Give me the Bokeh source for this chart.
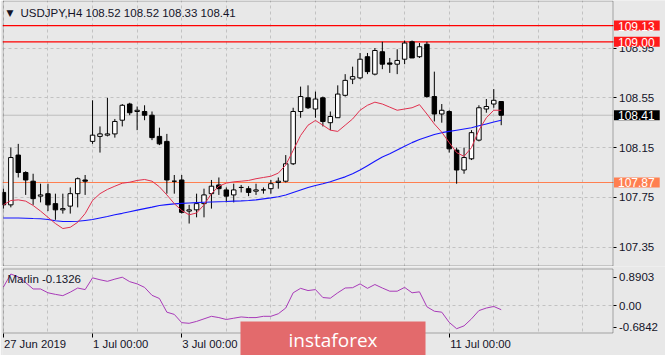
from bokeh.plotting import figure
from bokeh.layouts import column
from bokeh.models import Span, Label, FixedTicker, Range1d, ColumnDataSource, BoxAnnotation
from bokeh.embed import file_html
from bokeh.resources import INLINE

# ---------------- data ----------------
opens = [107.79, 107.69, 108.09, 107.95, 107.88, 107.76, 107.78, 107.70, 107.65, 107.68,
         107.78, 107.89, 108.20, 108.24, 108.25, 108.26, 108.37, 108.50, 108.44, 108.44,
         108.41, 108.24, 108.20, 107.88, 107.89, 107.64, 107.65, 107.70, 107.78, 107.85,
         107.81, 107.77, 107.83, 107.82, 107.80, 107.81, 107.82, 107.87, 107.88, 108.02,
         108.44, 108.55, 108.46, 108.55, 108.35, 108.39, 108.57, 108.70, 108.71, 108.88,
         108.74, 108.92, 108.83, 108.82, 108.86, 109.00, 108.88, 108.98, 108.56, 108.42,
         108.44, 108.13, 107.97, 108.06, 108.21, 108.46, 108.50, 108.52]
highs = [107.82, 108.15, 108.18, 107.96, 107.94, 107.86, 107.86, 107.78, 107.78, 107.83,
         107.91, 107.93, 108.53, 108.32, 108.55, 108.38, 108.50, 108.51, 108.48, 108.49,
         108.44, 108.31, 108.26, 107.93, 107.93, 107.69, 107.78, 107.82, 107.89, 107.91,
         107.83, 107.86, 107.85, 107.84, 107.86, 107.83, 107.89, 107.91, 108.09, 108.47,
         108.64, 108.65, 108.60, 108.56, 108.44, 108.65, 108.74, 108.80, 108.91, 108.91,
         108.95, 109.00, 108.87, 108.94, 109.01, 109.01, 108.99, 109.00, 108.76, 108.50,
         108.45, 108.15, 108.15, 108.29, 108.49, 108.54, 108.62, 108.52]
lows = [107.66, 107.67, 107.91, 107.77, 107.69, 107.71, 107.64, 107.57, 107.62, 107.62,
        107.67, 107.77, 108.18, 108.11, 108.24, 108.23, 108.32, 108.41, 108.29, 108.37,
        108.21, 108.17, 107.78, 107.78, 107.62, 107.54, 107.59, 107.59, 107.66, 107.77,
        107.71, 107.71, 107.79, 107.76, 107.77, 107.78, 107.78, 107.82, 107.87, 108.01,
        108.39, 108.46, 108.39, 108.32, 108.29, 108.39, 108.56, 108.66, 108.70, 108.74,
        108.73, 108.78, 108.75, 108.74, 108.82, 108.87, 108.87, 108.55, 108.36, 108.35,
        108.11, 107.86, 107.94, 108.05, 108.20, 108.43, 108.47, 108.33]
closes = [107.69, 108.07, 107.95, 107.89, 107.74, 107.77, 107.69, 107.65, 107.66, 107.78,
          107.90, 107.88, 108.25, 108.26, 108.26, 108.36, 108.49, 108.43, 108.45, 108.41,
          108.23, 108.18, 107.89, 107.88, 107.63, 107.65, 107.70, 107.77, 107.84, 107.82,
          107.76, 107.81, 107.83, 107.79, 107.81, 107.81, 107.86, 107.88, 108.02, 108.44,
          108.56, 108.47, 108.54, 108.36, 108.40, 108.58, 108.69, 108.72, 108.86, 108.76,
          108.93, 108.82, 108.82, 108.85, 108.99, 108.87, 108.96, 108.56, 108.42, 108.45,
          108.14, 107.97, 108.07, 108.27, 108.47, 108.48, 108.53, 108.41]
ma_fast = [107.69, 107.725, 107.73, 107.72, 107.685, 107.64, 107.59, 107.54, 107.50, 107.51,
           107.55, 107.62, 107.725, 107.78, 107.814, 107.84, 107.864, 107.872, 107.886, 107.894,
           107.88, 107.835, 107.77, 107.70, 107.645, 107.61, 107.625, 107.69, 107.78, 107.84,
           107.865, 107.875, 107.88, 107.886, 107.90, 107.91, 107.92, 107.945, 108.01, 108.127,
           108.247, 108.33, 108.368, 108.33, 108.29, 108.28, 108.33, 108.38, 108.45, 108.49,
           108.515, 108.50, 108.475, 108.45, 108.46, 108.47, 108.495, 108.42, 108.34, 108.274,
           108.19, 108.11, 108.08, 108.15, 108.29, 108.39, 108.45, 108.45]
ma_slow = [107.585, 107.585, 107.585, 107.583, 107.58, 107.578, 107.572, 107.562, 107.556, 107.556,
           107.558, 107.565, 107.572, 107.585, 107.597, 107.61, 107.622, 107.635, 107.648, 107.66,
           107.672, 107.685, 107.692, 107.698, 107.702, 107.705, 107.708, 107.711, 107.713, 107.715,
           107.717, 107.72, 107.722, 107.725, 107.73, 107.738, 107.746, 107.755, 107.77, 107.79,
           107.81, 107.83, 107.846, 107.86, 107.875, 107.895, 107.915, 107.94, 107.97, 108.005,
           108.04, 108.075, 108.10, 108.13, 108.16, 108.19, 108.215, 108.235, 108.255, 108.27,
           108.28, 108.29, 108.30, 108.31, 108.325, 108.34, 108.355, 108.37]
marlin = [0.58, 0.99, 0.90, 0.72, 0.52, 0.52, 0.40, 0.35, 0.31, 0.42,
          0.55, 0.50, 0.87, 0.81, 0.76, 0.83, 0.89, 0.75, 0.68, 0.57,
          0.32, 0.22, -0.21, -0.28, -0.54, -0.56, -0.50, -0.42, -0.34, -0.38,
          -0.44, -0.40, -0.36, -0.38, -0.38, -0.34, -0.34, -0.26, -0.08, 0.40,
          0.54, 0.47, 0.50, 0.25, 0.23, 0.40, 0.55, 0.56, 0.68, 0.54,
          0.66, 0.55, 0.45, 0.45, 0.57, 0.40, 0.43, -0.04, -0.18, -0.21,
          -0.53, -0.73, -0.64, -0.42, -0.16, -0.08, -0.03, -0.1326]

date_tick_idx = [0, 12, 24, 36, 48, 60]
date_tick_labels = ["27 Jun 2019", "1 Jul 00:00", "3 Jul 00:00", "5 Jul 00:00", "9 Jul 00:00", "11 Jul 00:00"]
day_grid_idx = list(range(0, 84, 6))
price_ticks = [107.35, 107.75, 108.15, 108.55, 108.95]
marlin_ticks = [-0.6842, 0.0, 0.8903]
marlin_tick_labels = ["-0.6842", "0.00", "0.8903"]
resistance_levels = [109.13, 109.00]
support_level = 107.87
last_price = 108.41
symbol_title = "USDJPY,H4  108.52 108.52 108.33 108.41"
marlin_title = "Marlin -0.1326"

# ---------------- geometry / style ----------------
C0_PX, CANDLE_PX = 2.9, 7.43          # page x of first candle, px per candle
PANEL_R = 612.5                       # right border of the chart panels (page px)


def xpx(px):
    return (px - C0_PX) / CANDLE_PX


PRICE_REF, PRICE_REF_PX, PX_PER_PRICE = 108.95, 47.5, 124.5


def price_at(py):
    return PRICE_REF - (py - PRICE_REF_PX) / PX_PER_PRICE


M_ZERO_PX, PX_PER_M = 305.0, 31.79    # page y of Marlin 0, px per Marlin unit


def m_at(py):
    return (M_ZERO_PX - py) / PX_PER_M


BG = "#e8e8e8"
GRID = "#c2c2c2"
TXT = "#141428"
FONT = "Liberation Sans"
DATE_FONT_PX = 11.3
date_label_px_w = [62.2, 55.3, 55.3, 55.3, 55.3, 61.6]   # rendered widths, for left alignment

x_range = Range1d(xpx(2), xpx(665))


def style_grid(fig):
    for g in (fig.xgrid, fig.ygrid):
        g.grid_line_color = GRID
        g.grid_line_dash = "3 3"
        g.grid_line_width = 1


def style_value_axis(a):
    a.axis_line_color = None
    a.major_tick_in = 0
    a.major_tick_out = 3
    a.major_tick_line_color = "black"
    a.minor_tick_line_color = None
    a.major_label_standoff = 3
    a.major_label_text_font = FONT
    a.major_label_text_font_size = "11.5px"
    a.major_label_text_color = TXT


def cover(fig, **kw):
    fig.add_layout(BoxAnnotation(fill_color=BG, fill_alpha=1, line_color=None, level="glyph", **kw))


# ---------------- main price panel ----------------
p = figure(width=665, height=266, x_range=x_range,
           y_range=Range1d(price_at(266), price_at(0)),
           output_backend="svg", toolbar_location=None, title=None,
           x_axis_location=None, y_axis_location="right",
           min_border_left=2, min_border_right=0, min_border_top=0, min_border_bottom=0)
p.background_fill_color = BG
p.border_fill_color = BG
p.outline_line_color = None

p.xgrid.ticker = FixedTicker(ticks=day_grid_idx)
p.ygrid.ticker = FixedTicker(ticks=price_ticks)
style_grid(p)

ax = p.yaxis[0]
ax.fixed_location = xpx(PANEL_R)
ax.ticker = FixedTicker(ticks=price_ticks)
ax.major_label_overrides = {t: f"{t:.2f}" for t in price_ticks}
style_value_axis(ax)

# level lines
p.add_layout(Span(location=last_price, dimension="width", line_color="#bdbdbd", line_width=1, level="underlay"))
for lv in resistance_levels:
    p.add_layout(Span(location=lv, dimension="width", line_color="#ff0000", line_width=1.2, level="underlay"))
p.add_layout(Span(location=support_level, dimension="width", line_color="#ff7f50", line_width=1.1, level="underlay"))

# candles
idx = list(range(len(opens)))
up = [i for i in idx if closes[i] >= opens[i]]
dn = [i for i in idx if closes[i] < opens[i]]
wick_src = ColumnDataSource(dict(x=idx, h=highs, l=lows))
p.segment(x0="x", y0="h", x1="x", y1="l", source=wick_src, line_color="black", line_width=1)
up_src = ColumnDataSource(dict(x=up, top=[closes[i] for i in up], bottom=[opens[i] for i in up]))
dn_src = ColumnDataSource(dict(x=dn, top=[opens[i] for i in dn], bottom=[closes[i] for i in dn]))
p.vbar(x="x", top="top", bottom="bottom", width=0.6, source=up_src,
       fill_color="white", line_color="black", line_width=1)
p.vbar(x="x", top="top", bottom="bottom", width=0.6, source=dn_src,
       fill_color="black", line_color="black", line_width=1)

# moving averages
p.line(idx, ma_slow, line_color="#1414ff", line_width=1.1)
p.line(idx, ma_fast, line_color="#e0304e", line_width=1)

# price-scale strip (no grid there) and panel border
cover(p, left=xpx(PANEL_R + 0.5))
p.add_layout(BoxAnnotation(left=xpx(2.5), right=xpx(PANEL_R), top=price_at(0.5), bottom=price_at(265.5),
                           fill_alpha=0, line_color="black", line_width=1))

# title
p.add_layout(Label(x=xpx(6), y=price_at(12), text="\u25bc", text_font="DejaVu Sans",
                   text_font_size="9px", text_color=TXT, text_baseline="middle", text_align="left"))
p.add_layout(Label(x=xpx(20), y=price_at(12), text=symbol_title, text_font=FONT,
                   text_font_size="11.5px", text_color=TXT, text_baseline="middle", text_align="left"))


def tag(level, bg):
    p.add_layout(Label(x=xpx(PANEL_R + 1), y=level, text=f"{level:.2f}", text_font=FONT,
                       text_font_size="12px", text_color="white", text_baseline="middle",
                       text_align="left", background_fill_color=bg,
                       padding=dict(left=4, right=5, top=1, bottom=0)))


tag(resistance_levels[0], "#ff1a1a")
tag(resistance_levels[1], "#ff1a1a")
tag(last_price, "#000000")
tag(support_level, "#ff7f50")

# ---------------- Marlin panel ----------------
p2 = figure(width=665, height=89, x_range=x_range,
            y_range=Range1d(m_at(355), m_at(266)),
            output_backend="svg", toolbar_location=None, title=None,
            y_axis_location="right",
            min_border_left=2, min_border_right=0, min_border_top=0, min_border_bottom=0)
p2.background_fill_color = BG
p2.border_fill_color = BG
p2.outline_line_color = None

p2.xgrid.ticker = FixedTicker(ticks=day_grid_idx)
p2.ygrid.ticker = FixedTicker(ticks=[0.0])
style_grid(p2)

ay = p2.yaxis[0]
ay.fixed_location = xpx(PANEL_R)
ay.ticker = FixedTicker(ticks=marlin_ticks)
ay.major_label_overrides = dict(zip(marlin_ticks, marlin_tick_labels))
style_value_axis(ay)

# date axis: tick marks at the bar (minor ticks), labels starting at the tick
label_pos = [t + (w / 2 + 0.5) / CANDLE_PX for t, w in zip(date_tick_idx, date_label_px_w)]
axx = p2.xaxis[0]
axx.fixed_location = m_at(332.5)
axx.ticker = FixedTicker(ticks=label_pos, minor_ticks=date_tick_idx)
axx.major_label_overrides = dict(zip(label_pos, date_tick_labels))
axx.axis_line_color = None
axx.major_tick_line_color = None
axx.major_tick_in = 0
axx.major_tick_out = 4
axx.minor_tick_line_color = "black"
axx.minor_tick_in = 0
axx.minor_tick_out = 4
axx.major_label_standoff = 1
axx.major_label_text_font = FONT
axx.major_label_text_font_size = f"{DATE_FONT_PX}px"
axx.major_label_text_color = TXT

p2.line(idx, marlin, line_color="#a83ab8", line_width=1)

cover(p2, left=xpx(PANEL_R + 0.5))
cover(p2, bottom=m_at(268))
cover(p2, top=m_at(332.5))
p2.add_layout(BoxAnnotation(left=xpx(2.5), right=xpx(PANEL_R), top=m_at(268.5), bottom=m_at(332.5),
                            fill_alpha=0, line_color="black", line_width=1))

p2.add_layout(Label(x=xpx(7), y=m_at(278.5), text=marlin_title, text_font=FONT,
                    text_font_size="11.5px", text_color=TXT, text_baseline="middle", text_align="left"))

# watermark
p2.add_layout(Label(x=xpx(332.5), y=m_at(339), text="instaforex", text_font="Open Sans",
                    text_font_size="19px", text_color="white", text_baseline="middle",
                    text_align="center", background_fill_color="#e36a6c",
                    padding=dict(left=48, right=48, top=5, bottom=5)))

layout = column(p, p2, spacing=0)
open("out.html", "w").write(file_html(layout, INLINE))
